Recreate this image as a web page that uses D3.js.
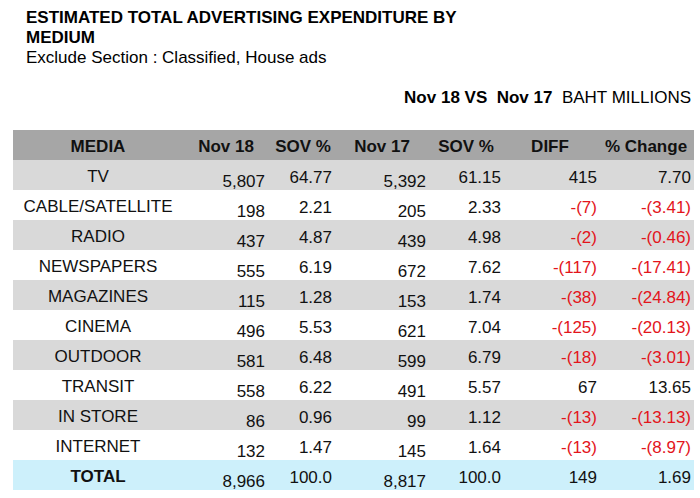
<!DOCTYPE html>
<html><head><meta charset="utf-8">
<script src="https://cdn.jsdelivr.net/npm/d3@7/dist/d3.min.js"></script>
<style>
html,body{margin:0;padding:0;background:#fff;}
svg{display:block;font-family:Arial,"Liberation Sans",sans-serif;}
</style></head>
<body>
<svg id="chart" width="700" height="498"></svg>
<script>
const media = ["TV","CABLE/SATELLITE","RADIO","NEWSPAPERS","MAGAZINES","CINEMA","OUTDOOR","TRANSIT","IN STORE","INTERNET","TOTAL"];
const nov18 = ["5,807","198","437","555","115","496","581","558","86","132","8,966"];
const sov18 = ["64.77","2.21","4.87","6.19","1.28","5.53","6.48","6.22","0.96","1.47","100.0"];
const nov17 = ["5,392","205","439","672","153","621","599","491","99","145","8,817"];
const sov17 = ["61.15","2.33","4.98","7.62","1.74","7.04","6.79","5.57","1.12","1.64","100.0"];
const diff = ["415","-(7)","-(2)","-(117)","-(38)","-(125)","-(18)","67","-(13)","-(13)","149"];
const pctChange = ["7.70","-(3.41)","-(0.46)","-(17.41)","-(24.84)","-(20.13)","-(3.01)","13.65","-(13.13)","-(8.97)","1.69"];
const headers = ["MEDIA","Nov 18","SOV %","Nov 17","SOV %","DIFF","% Change"];

const svg = d3.select("#chart");
const left = 13, right = 694;
const fs = 17;

// titles
svg.append("text").attr("x",26).attr("y",23).attr("font-size",fs).attr("font-weight","bold").text("ESTIMATED TOTAL ADVERTISING EXPENDITURE BY");
svg.append("text").attr("x",26).attr("y",43).attr("font-size",fs).attr("font-weight","bold").text("MEDIUM");
svg.append("text").attr("x",26).attr("y",63).attr("font-size",fs).text("Exclude Section : Classified, House ads");
const sub = svg.append("text").attr("x",691).attr("y",103).attr("font-size",fs).attr("text-anchor","end");
sub.append("tspan").attr("font-weight","bold").text("Nov 18 VS\u00a0 Nov 17");
sub.append("tspan").text("\u00a0 BAHT MILLIONS");

// row scale
const rowKeys = ["__header"].concat(media);
const y = d3.scaleBand().domain(rowKeys).range([130, 130 + 30*rowKeys.length]).padding(0);

// backgrounds
rowKeys.forEach((k,i)=>{
  let fill = null;
  if (i===0) fill = "#a6a6a6";
  else if (k==="TOTAL") fill = "#cdf0fb";
  else if (i % 2 === 1) fill = "#d9d9d9";
  if (fill) svg.append("rect").attr("x",left).attr("y",y(k)).attr("width",right-left).attr("height",y.bandwidth()).attr("fill",fill);
});

// header
const headerX = [98,226,303,382,466,550,646];
headers.forEach((h,i)=>{
  svg.append("text").attr("x",headerX[i]).attr("y",y("__header")+22).attr("font-size",fs)
    .attr("font-weight","bold").attr("text-anchor","middle").attr("fill","#111").text(h);
});

// columns
const cols = [
  {vals:nov18, x:265, dy:27},
  {vals:sov18, x:332, dy:23},
  {vals:nov17, x:426, dy:27},
  {vals:sov17, x:501, dy:23},
  {vals:diff, x:597, dy:23},
  {vals:pctChange, x:691, dy:23}
];

media.forEach((m,i)=>{
  const top = y(m);
  svg.append("text").attr("x",98).attr("y",top+22).attr("font-size",fs).attr("text-anchor","middle")
    .attr("font-weight", m==="TOTAL"?"bold":"normal").attr("fill","#111").text(m);
  cols.forEach(c=>{
    const v = c.vals[i];
    svg.append("text").attr("x",c.x).attr("y",top+c.dy).attr("font-size",fs).attr("text-anchor","end")
      .attr("fill", v.startsWith("-") ? "#e3141b" : "#111").text(v);
  });
});
</script>
</body></html>
